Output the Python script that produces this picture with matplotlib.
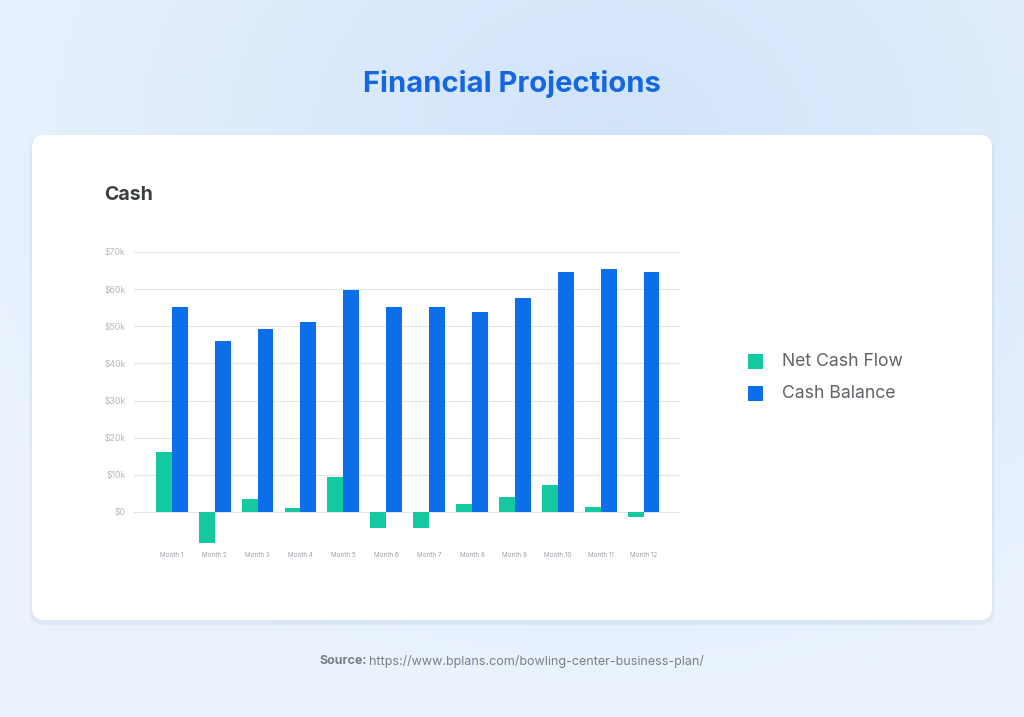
import numpy as np
import matplotlib
matplotlib.use("Agg")
import matplotlib.pyplot as plt
from matplotlib.patches import FancyBboxPatch, Rectangle

plt.rcParams['font.family'] = ['Inter', 'DejaVu Sans']

# Data (in $k)
months = ['Month 1', 'Month 2', 'Month 3', 'Month 4', 'Month 5', 'Month 6',
          'Month 7', 'Month 8', 'Month 9', 'Month 10', 'Month 11', 'Month 12']
net_cash_flow = [16.2, -8.3, 3.5, 1.1, 9.4, -4.3, -4.3, 2.1, 4.0, 7.3, 1.2, -1.3]
cash_balance = [55.2, 46.0, 49.3, 51.2, 59.8, 55.2, 55.2, 53.8, 57.5, 64.5, 65.4, 64.5]
y_ticks = [0, 10, 20, 30, 40, 50, 60, 70]
y_labels = ['$0', '$10k', '$20k', '$30k', '$40k', '$50k', '$60k', '$70k']

green = '#14C9A0'
blue = '#0A6FE8'

W, H = 1024, 717
fig = plt.figure(figsize=(W / 100, H / 100), dpi=100)

# background gradient
bg = fig.add_axes([0, 0, 1, 1])
bg.set_xlim(0, W)
bg.set_ylim(H, 0)
bg.axis('off')
xx, yy = np.meshgrid(np.linspace(0, 1, 256), np.linspace(0, 1, 180))
d = np.sqrt(((xx - 0.6) / 0.7) ** 2 + ((yy - 0.2) / 0.8) ** 2)
d = np.clip(d, 0, 1)
c_in = np.array([0.82, 0.89, 0.98])
c_out = np.array([0.92, 0.955, 0.995])
img = c_in[None, None, :] * (1 - d[..., None]) + c_out[None, None, :] * d[..., None]
bg.imshow(img, extent=[0, W, H, 0], aspect='auto', zorder=0)

# card with soft shadow
for i, a in enumerate([0.03, 0.03, 0.03]):
    s = 2 + i * 2
    bg.add_patch(FancyBboxPatch((32 - s / 2, 135 - s / 2 + 3), 960 + s, 485 + s,
                                boxstyle="round,pad=0,rounding_size=14",
                                fc='#5a7aa8', ec='none', alpha=a, zorder=1))
bg.add_patch(FancyBboxPatch((32, 135), 960, 485, boxstyle="round,pad=0,rounding_size=12",
                            fc='white', ec='none', zorder=2))

bg.text(512, 84, 'Financial Projections', ha='center', va='center',
        fontsize=21, fontweight='bold', color='#1467E0', zorder=3)
bg.text(104, 195, 'Cash', ha='left', va='center', fontsize=14,
        fontweight='bold', color='#3c4043', zorder=3)
bg.text(320, 661, 'Source:', ha='left', va='center', fontsize=9.0,
        fontweight='bold', color='#7a7f87', zorder=3)
bg.text(369, 661, 'https://www.bplans.com/bowling-center-business-plan/',
        ha='left', va='center', fontsize=9.0, color='#7a7f87', zorder=3)

# legend
bg.add_patch(Rectangle((748, 354), 15, 15, fc=green, ec='none', zorder=3))
bg.add_patch(Rectangle((748, 386), 15, 15, fc=blue, ec='none', zorder=3))
bg.text(782, 362, 'Net Cash Flow', ha='left', va='center', fontsize=12.7,
        color='#5f6368', zorder=3)
bg.text(782, 394, 'Cash Balance', ha='left', va='center', fontsize=12.7,
        color='#5f6368', zorder=3)

# chart
ax = fig.add_axes([134 / W, 1 - 549 / H, (680 - 134) / W, (549 - 252) / H])
ax.patch.set_alpha(0)
x = np.arange(len(months))
w = 0.37
ax.bar(x - w / 2, net_cash_flow, width=w, color=green, zorder=3)
ax.bar(x + w / 2, cash_balance, width=w, color=blue, zorder=3)

ax.set_xlim(-0.88, 11.85)
ax.set_ylim(-10, 70)
ax.set_yticks(y_ticks)
ax.set_yticklabels(y_labels)
ax.set_xticks(x)
ax.set_xticklabels(months)
ax.tick_params(axis='y', length=0, pad=6, labelsize=6.3, labelcolor='#b5b8bd')
ax.tick_params(axis='x', length=0, pad=2, labelsize=4.5, labelcolor='#9a9ea5')
for v in y_ticks:
    ax.axhline(v, color='#e3e5e8', lw=0.8, zorder=1)
for sp in ax.spines.values():
    sp.set_visible(False)

fig.savefig('out.png', dpi=100)
